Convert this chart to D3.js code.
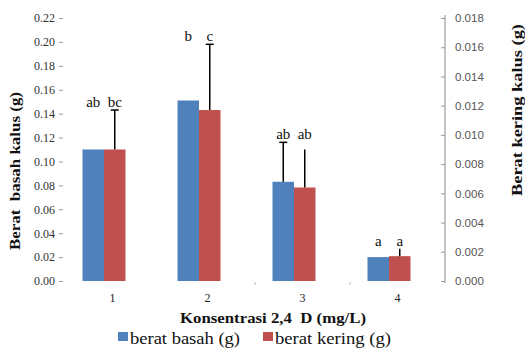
<!DOCTYPE html>
<html>
<head>
<meta charset="utf-8">
<script src="https://cdn.jsdelivr.net/npm/d3@7"></script>
<style>
	body { margin: 0; background: #fff; }
	svg { display: block; }
	text { white-space: pre; }
</style>
</head>
<body>
<svg id="chart" width="525" height="354"></svg>
<script>
// data
const categories = ["1", "2", "3", "4"];
const wetWeight = [0.110, 0.151, 0.083, 0.020];          // berat basah (g), left axis
const wetError = [0, 0, 0.033, 0];
const dryWeight = [0.0090, 0.0117, 0.0064, 0.0017];      // berat kering (g), right axis
const dryError = [0.0027, 0.0045, 0.0026, 0.0005];
const wetLetters = ["ab", "b", "ab", "a"];
const dryLetters = ["bc", "c", "ab", "a"];
const leftTicks = [0, 0.02, 0.04, 0.06, 0.08, 0.10, 0.12, 0.14, 0.16, 0.18, 0.20, 0.22];
const rightTicks = [0, 0.002, 0.004, 0.006, 0.008, 0.010, 0.012, 0.014, 0.016, 0.018];

const svg = d3.select("#chart");
const blue = "#4f81bd", red = "#c0504d";

const x = d3.scaleBand().domain(categories).range([65, 445]);
const xs = d3.scaleBand().domain(["wet", "dry"]).range([17.5, 60.5]);
const yL = d3.scaleLinear().domain([0, 0.22]).range([281, 18]);
const yR = d3.scaleLinear().domain([0, 0.018]).range([281, 18]);

// left axis (ticks only)
const gL = svg.append("g")
	.attr("transform", "translate(63,0)")
	.call(d3.axisLeft(yL).tickValues(leftTicks).tickFormat(d3.format(".2f")).tickSize(4).tickPadding(4));
gL.select(".domain").remove();
gL.selectAll(".tick line").attr("stroke", "#999");
gL.selectAll(".tick text")
	.style("font-family", "'Liberation Serif', serif")
	.style("font-size", "12px")
	.attr("fill", "#333");

// right axis
const gR = svg.append("g")
	.attr("transform", "translate(445,0)")
	.call(d3.axisRight(yR).tickValues(rightTicks).tickFormat(d3.format(".3f")).tickSize(-4).tickSizeOuter(0).tickPadding(10));
gR.select(".domain").attr("stroke", "#888").attr("d", "M0,15V283");
gR.selectAll(".tick line").attr("stroke", "#999");
gR.selectAll(".tick text")
	.style("font-family", "'Liberation Sans', sans-serif")
	.style("font-size", "11.5px")
	.attr("fill", "#555");

// faint category separators
svg.append("g").selectAll("line")
	.data(categories.slice(2))
	.join("line")
	.attr("x1", d => x(d)).attr("x2", d => x(d))
	.attr("y1", 282).attr("y2", 285)
	.attr("stroke", "#bbb");

// x tick labels
svg.append("g").selectAll("text")
	.data(categories)
	.join("text")
	.attr("x", d => x(d) + x.bandwidth() / 2)
	.attr("y", 302)
	.attr("text-anchor", "middle")
	.style("font-family", "'Liberation Serif', serif")
	.style("font-size", "12px")
	.attr("fill", "#222")
	.text(d => d);

// bars
const groups = svg.append("g").selectAll("g")
	.data(categories)
	.join("g")
	.attr("transform", d => "translate(" + x(d) + ",0)");

groups.append("rect")
	.attr("x", xs("wet"))
	.attr("width", xs.bandwidth())
	.attr("y", (d, i) => yL(wetWeight[i]))
	.attr("height", (d, i) => yL(0) - yL(wetWeight[i]))
	.attr("fill", blue);

groups.append("rect")
	.attr("x", xs("dry"))
	.attr("width", xs.bandwidth())
	.attr("y", (d, i) => yR(dryWeight[i]))
	.attr("height", (d, i) => yR(0) - yR(dryWeight[i]))
	.attr("fill", red);

// error bars (upper half only)
function errorBar(g, key, scale, vals, errs, withCap) {
	const cx = xs(key) + xs.bandwidth() / 2;
	g.filter((d, i) => errs[i] > 0).each(function (d) {
		const i = categories.indexOf(d);
		const sel = d3.select(this);
		sel.append("line")
			.attr("x1", cx).attr("x2", cx)
			.attr("y1", scale(vals[i])).attr("y2", scale(vals[i] + errs[i]))
			.attr("stroke", "#000").attr("stroke-width", 1.5);
		if (withCap[i]) {
			sel.append("line")
				.attr("x1", cx - 4).attr("x2", cx + 4)
				.attr("y1", scale(vals[i] + errs[i])).attr("y2", scale(vals[i] + errs[i]))
				.attr("stroke", "#000").attr("stroke-width", 1.5);
		}
	});
}
errorBar(groups, "wet", yL, wetWeight, wetError, [false, false, true, false]);
errorBar(groups, "dry", yR, dryWeight, dryError, [true, true, false, false]);

// significance letters above each group
const groupTop = categories.map((d, i) => Math.min(
	yL(wetWeight[i] + wetError[i]),
	yR(dryWeight[i] + dryError[i])
));
groups.append("text")
	.attr("x", xs("wet") + xs.bandwidth() / 2)
	.attr("y", (d, i) => groupTop[i] - 3)
	.attr("text-anchor", "middle")
	.style("font-family", "'Liberation Serif', serif")
	.style("font-size", "15px")
	.attr("fill", "#111")
	.text((d, i) => wetLetters[i]);
groups.append("text")
	.attr("x", xs("dry") + xs.bandwidth() / 2)
	.attr("y", (d, i) => groupTop[i] - 3)
	.attr("text-anchor", "middle")
	.style("font-family", "'Liberation Serif', serif")
	.style("font-size", "15px")
	.attr("fill", "#111")
	.text((d, i) => dryLetters[i]);

// axis titles
svg.append("text")
	.attr("transform", "translate(20,171) rotate(-90)")
	.attr("text-anchor", "middle")
	.attr("textLength", 158)
	.attr("lengthAdjust", "spacingAndGlyphs")
	.style("font-family", "'Liberation Serif', serif")
	.style("font-size", "15px")
	.style("font-weight", "bold")
	.attr("fill", "#111")
	.text("Berat  basah kalus (g)");

svg.append("text")
	.attr("transform", "translate(522,110) rotate(-90)")
	.attr("text-anchor", "middle")
	.attr("textLength", 172)
	.attr("lengthAdjust", "spacingAndGlyphs")
	.style("font-family", "'Liberation Serif', serif")
	.style("font-size", "15px")
	.style("font-weight", "bold")
	.attr("fill", "#111")
	.text("Berat kering kalus (g)");

svg.append("text")
	.attr("x", 273).attr("y", 323)
	.attr("text-anchor", "middle")
	.attr("textLength", 186)
	.attr("lengthAdjust", "spacingAndGlyphs")
	.style("font-family", "'Liberation Serif', serif")
	.style("font-size", "15px")
	.style("font-weight", "bold")
	.attr("fill", "#111")
	.text("Konsentrasi 2,4  D (mg/L)");

// legend
const legendItems = [
	{ label: "berat basah (g)", color: blue, x: 118, w: 110 },
	{ label: "berat kering (g)", color: red, x: 263, w: 116 }
];
const lg = svg.append("g").selectAll("g")
	.data(legendItems)
	.join("g")
	.attr("transform", d => "translate(" + d.x + ",0)");
lg.append("rect")
	.attr("y", 332).attr("width", 10).attr("height", 9)
	.attr("fill", d => d.color);
lg.append("text")
	.attr("x", 12).attr("y", 344)
	.attr("textLength", d => d.w)
	.attr("lengthAdjust", "spacingAndGlyphs")
	.style("font-family", "'Liberation Serif', serif")
	.style("font-size", "16px")
	.attr("fill", "#111")
	.text(d => d.label);
</script>
</body>
</html>
